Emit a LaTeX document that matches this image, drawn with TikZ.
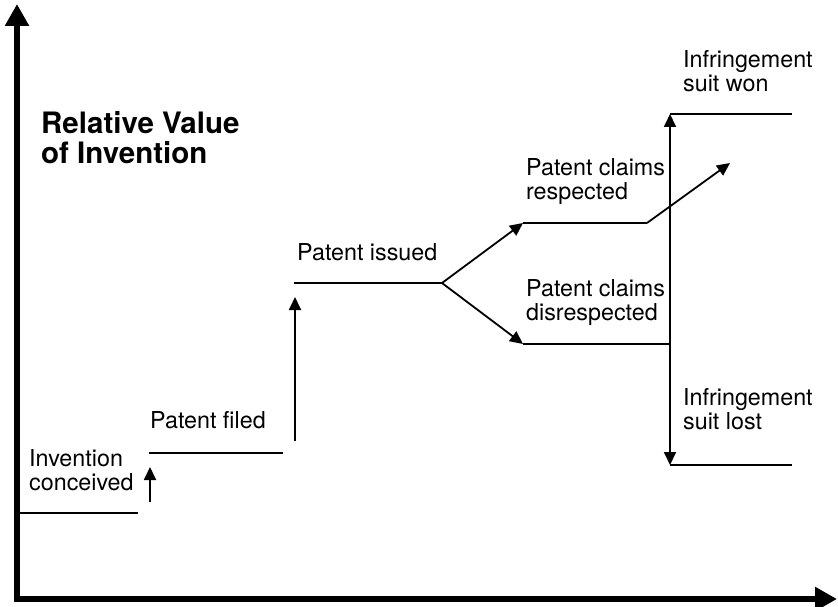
\documentclass[tikz,border=0pt]{standalone}
\usepackage{fontspec}
\setmainfont{TeX Gyre Heros}
\usetikzlibrary{arrows.meta}
\begin{document}
\begin{tikzpicture}[x=1pt,y=-1pt,
  lbl/.style={anchor=north west,inner sep=0pt,align=left,font=\fontsize{23.3}{24.5}\selectfont},
  ttl/.style={anchor=north west,inner sep=0pt,align=left,font=\bfseries\fontsize{29.5}{30}\selectfont},
  level/.style={line width=2.8pt},
  conn/.style={line width=1.8pt,-{Triangle[length=13pt,width=12pt]}},
  dconn/.style={line width=1.8pt,{Triangle[length=13pt,width=12pt]}-{Triangle[length=13pt,width=12pt]}},
  axis/.style={line width=6pt,line join=miter,{Triangle[length=22pt,width=23pt]}-{Triangle[length=22pt,width=23pt]}}]
\useasboundingbox (0,0) rectangle (838,607);

% axes
\coordinate (ytip) at (17,4);
\coordinate (orig) at (17,599);
\coordinate (xtip) at (837,599);
\draw[axis] (ytip) -- (orig) -- (xtip);

% levels
\coordinate (c0a) at (20,513);   \coordinate (c0b) at (138,513);
\coordinate (a1s) at (150,502);  \coordinate (a1e) at (150,467);
\coordinate (f1) at (149,453);   \coordinate (f2) at (283,453);
\coordinate (a2s) at (295,441);  \coordinate (a2e) at (295,297);
\coordinate (i1) at (294,283);   \coordinate (i2) at (442,283);
\coordinate (r1) at (523,223);   \coordinate (r2) at (647,223);
\coordinate (rt) at (730,163);
\coordinate (d1) at (523,344);   \coordinate (d2) at (670,344);
\coordinate (w1) at (670,114);   \coordinate (w2) at (792,114);
\coordinate (l1) at (670,465);   \coordinate (l2) at (792,465);

\draw[level] (c0a) -- (c0b);
\draw[conn] (a1s) -- (a1e);
\draw[level] (f1) -- (f2);
\draw[conn] (a2s) -- (a2e);
\draw[level] (i1) -- (i2);
\draw[conn] (i2) -- (r1);
\draw[conn] (i2) -- (d1);
\draw[level] (r1) -- (r2);
\draw[conn] (r2) -- (rt);
\draw[level] (d1) -- (d2);
\draw[dconn] (l1) -- (w1);
\draw[level] (w1) -- (w2);
\draw[level] (l1) -- (l2);

% labels
\node[ttl] (title) at (41,111) {Relative Value\\of Invention};
\node[lbl] (won) at (683,50) {Infringement\\suit won};
\node[lbl] (resp) at (526,158) {Patent claims\\respected};
\node[lbl] (issued) at (297,243) {Patent issued};
\node[lbl] (disresp) at (526,279) {Patent claims\\disrespected};
\node[lbl] (lost) at (683,388) {Infringement\\suit lost};
\node[lbl] (filed) at (150,411) {Patent filed};
\node[lbl] (conc) at (29,449) {Invention\\conceived};
\end{tikzpicture}
\end{document}
